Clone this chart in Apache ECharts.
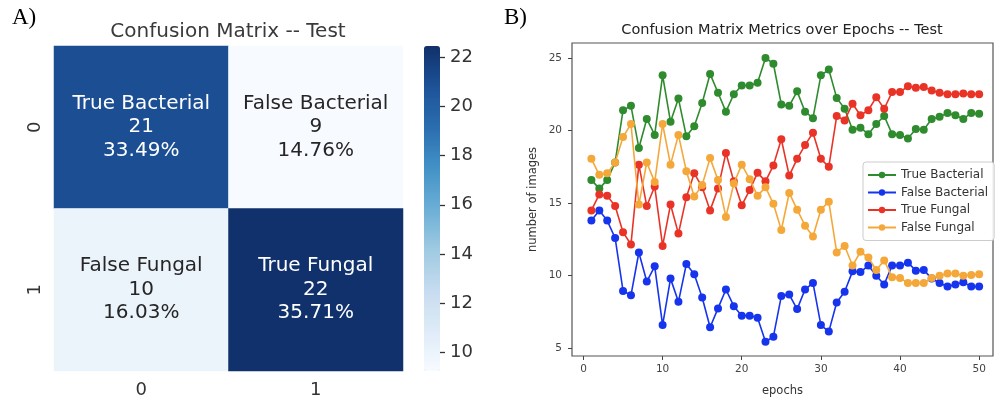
<!DOCTYPE html>
<html><head><meta charset="utf-8">
<script src="https://cdn.jsdelivr.net/npm/echarts@6/dist/echarts.min.js"></script>
<style>html,body{margin:0;padding:0;background:#fff}#c{width:997px;height:402px}</style>
</head><body><div id="c"></div>
<script>
// ---------- Panel A: confusion matrix ----------
const cmXLabels = ['0', '1'];
const cmYLabels = ['0', '1'];
const cmNames = ['True Bacterial', 'False Bacterial', 'False Fungal', 'True Fungal'];
const cmCounts = ['21', '9', '10', '22'];
const cmPercents = ['33.49%', '14.76%', '16.03%', '35.71%'];
const cmCellX = [0, 1, 0, 1];
const cmCellY = [0, 0, 1, 1];
const cmValues = [21.0, 9.25, 10.05, 22.39];
const colorbarTicks = [10, 12, 14, 16, 18, 20, 22];
const colorbarRange = [9.25, 22.45];

// ---------- Panel B: metrics over epochs ----------
const epochs = [1,2,3,4,5,6,7,8,9,10,11,12,13,14,15,16,17,18,19,20,21,22,23,24,25,26,27,28,29,30,31,32,33,34,35,36,37,38,39,40,41,42,43,44,45,46,47,48,49,50];
const trueBacterial = [16.6,16.0,16.6,17.8,21.4,21.7,18.8,20.8,19.7,23.8,20.6,22.2,19.6,20.3,21.9,23.9,22.6,21.3,22.5,23.1,23.1,23.3,25.0,24.6,21.8,21.7,22.7,21.3,20.85,23.8,24.2,22.25,21.5,20.05,20.2,19.75,20.45,21.0,19.75,19.7,19.45,20.1,20.05,20.8,20.95,21.2,21.05,20.8,21.2,21.15];
const falseBacterial = [13.8,14.5,13.8,12.6,8.95,8.65,11.6,9.6,10.65,6.6,9.8,8.2,10.8,10.1,8.5,6.45,7.75,9.05,7.9,7.25,7.25,7.1,5.45,5.8,8.6,8.7,7.7,9.05,9.5,6.6,6.15,8.15,8.9,10.3,10.25,10.7,10.0,9.4,10.7,10.7,10.9,10.35,10.4,9.8,9.5,9.25,9.4,9.55,9.25,9.25];
const trueFungal = [14.5,15.6,15.5,14.8,13.0,12.15,17.65,14.8,16.15,12.05,14.9,12.9,15.4,17.05,16.1,14.5,16.0,18.45,16.5,14.85,15.9,17.1,16.5,17.6,19.4,16.9,18.05,19.0,19.85,18.05,17.5,21.0,20.7,21.85,21.05,21.4,22.3,21.5,22.65,22.65,23.05,22.95,23.0,22.75,22.6,22.5,22.5,22.55,22.5,22.5];
const falseFungal = [18.05,16.95,17.05,17.8,19.55,20.45,14.9,17.8,16.45,20.45,17.65,19.7,17.2,15.45,16.25,18.1,16.6,14.05,16.35,17.65,16.65,15.5,16.1,14.95,13.15,15.7,14.55,13.45,12.7,14.55,15.1,11.6,12.05,10.7,11.65,11.25,10.4,11.05,9.9,9.85,9.5,9.5,9.5,9.85,10.0,10.15,10.15,10.0,10.05,10.1];
const seriesNames = ['True Bacterial', 'False Bacterial', 'True Fungal', 'False Fungal'];
const seriesColors = ['#2e8b2e', '#1633ee', '#ea3327', '#f5a83a'];
const epochTicks = [0, 10, 20, 30, 40, 50];
const imageTicks = [5, 10, 15, 20, 25];

const FONT = 'DejaVu Sans';
const chart = echarts.init(document.getElementById('c'), null, {renderer: 'canvas'});

const heatData = cmValues.map((v, i) => ({
  value: [cmCellX[i], cmCellY[i], v],
  label: {color: v > 16 ? '#ffffff' : '#262626'}
}));

const lineSeriesData = [trueBacterial, falseBacterial, trueFungal, falseFungal];
const lineSeries = lineSeriesData.map((arr, k) => ({
  name: seriesNames[k],
  type: 'line',
  xAxisIndex: 2, yAxisIndex: 2,
  data: arr.map((v, i) => [epochs[i], v]),
  symbol: 'circle',
  symbolSize: 8,
  color: seriesColors[k],
  lineStyle: {width: 1.6, color: seriesColors[k]},
  itemStyle: {color: seriesColors[k]},
  z: 3 + k,
  animation: false,
  emphasis: {disabled: true}
}));

const option = {
  animation: false,
  backgroundColor: '#ffffff',
  textStyle: {fontFamily: FONT},
  graphic: [
    {type: 'text', left: 12, top: 6, style: {text: 'A)', font: '23px "Liberation Serif"', fill: '#000'}},
    {type: 'text', left: 504, top: 6, style: {text: 'B)', font: '23px "Liberation Serif"', fill: '#000'}},
    {type: 'text', x: 228, y: 32, style: {text: 'Confusion Matrix -- Test', font: '20px "DejaVu Sans"', fill: '#3a3a3a', textAlign: 'center', textVerticalAlign: 'middle'}},
    {type: 'text', x: 782, y: 30, style: {text: 'Confusion Matrix Metrics over Epochs -- Test', font: '14.5px "DejaVu Sans"', fill: '#222', textAlign: 'center', textVerticalAlign: 'middle'}}
  ],
  grid: [
    {left: 54, top: 46, width: 349, height: 325},
    {left: 424, top: 46, width: 16, height: 325},
    {left: 572, top: 43, width: 421, height: 319, show: true, borderColor: '#555', borderWidth: 1.2, backgroundColor: 'transparent'}
  ],
  xAxis: [
    {gridIndex: 0, type: 'category', data: cmXLabels, axisLine: {show: false}, axisTick: {show: false},
     axisLabel: {fontSize: 18, color: '#333', margin: 10, fontFamily: FONT}, splitLine: {show: false}},
    {gridIndex: 1, type: 'value', show: false, min: 0, max: 1},
    {gridIndex: 2, type: 'value', min: -1.45, max: 51.75,
     axisLine: {show: false, onZero: false},
     axisTick: {show: true, inside: false, length: 4, lineStyle: {color: '#444'}, customValues: epochTicks},
     axisLabel: {fontSize: 10.5, color: '#444', margin: 8, customValues: epochTicks, fontFamily: FONT},
     splitLine: {show: false},
     name: 'epochs', nameLocation: 'middle', nameGap: 29,
     nameTextStyle: {fontSize: 11.5, color: '#333', fontFamily: FONT}}
  ],
  yAxis: [
    {gridIndex: 0, type: 'category', data: cmYLabels, inverse: true, axisLine: {show: false}, axisTick: {show: false},
     axisLabel: {fontSize: 18, color: '#333', rotate: 90, margin: 10, fontFamily: FONT}, splitLine: {show: false}},
    {gridIndex: 1, type: 'value', position: 'right', min: colorbarRange[0], max: colorbarRange[1],
     axisLine: {show: true, onZero: false, lineStyle: {color: 'rgba(0,0,0,0)'}},
     axisTick: {show: true, inside: false, length: 5, lineStyle: {color: '#333', width: 1.3}, customValues: colorbarTicks},
     axisLabel: {fontSize: 18, color: '#333', margin: 10, customValues: colorbarTicks, fontFamily: FONT},
     splitLine: {show: false}},
    {gridIndex: 2, type: 'value', min: 4.47, max: 26.03,
     axisLine: {show: false, onZero: false},
     axisTick: {show: true, inside: false, length: 4, lineStyle: {color: '#444'}, customValues: imageTicks},
     axisLabel: {fontSize: 10.5, color: '#444', margin: 10, customValues: imageTicks, fontFamily: FONT},
     splitLine: {show: false},
     name: 'number of images', nameLocation: 'middle', nameGap: 33,
     nameTextStyle: {fontSize: 11.5, color: '#333', fontFamily: FONT}}
  ],
  visualMap: {
    type: 'continuous',
    seriesIndex: 0,
    min: colorbarRange[0], max: colorbarRange[1],
    calculable: false,
    orient: 'vertical',
    left: 424, top: 46,
    itemWidth: 16, itemHeight: 325,
    padding: 0,
    text: ['', ''],
    showLabel: false,
    inRange: {color: ['#f7fbff', '#deebf7', '#c6dbef', '#9ecae1', '#6baed6', '#4292c6', '#2a6db0', '#1d5298', '#10306a']}
  },
  legend: {
    data: seriesNames,
    orient: 'vertical',
    left: 863, top: 162,
    itemWidth: 28, itemHeight: 8, itemGap: 5.5,
    padding: [7, 6, 7, 4],
    borderColor: '#cccccc', borderWidth: 1, borderRadius: 3,
    backgroundColor: 'rgba(255,255,255,0.9)',
    textStyle: {fontSize: 12, color: '#333', fontFamily: FONT}
  },
  series: [
    {
      type: 'heatmap',
      xAxisIndex: 0, yAxisIndex: 0,
      data: heatData,
      label: {
        show: true,
        fontSize: 20,
        lineHeight: 23.5,
        fontFamily: FONT,
        formatter: p => cmNames[p.dataIndex] + '\n' + cmCounts[p.dataIndex] + '\n' + cmPercents[p.dataIndex]
      },
      emphasis: {disabled: true}
    },
    ...lineSeries
  ]
};
chart.setOption(option);
</script>
</body></html>
